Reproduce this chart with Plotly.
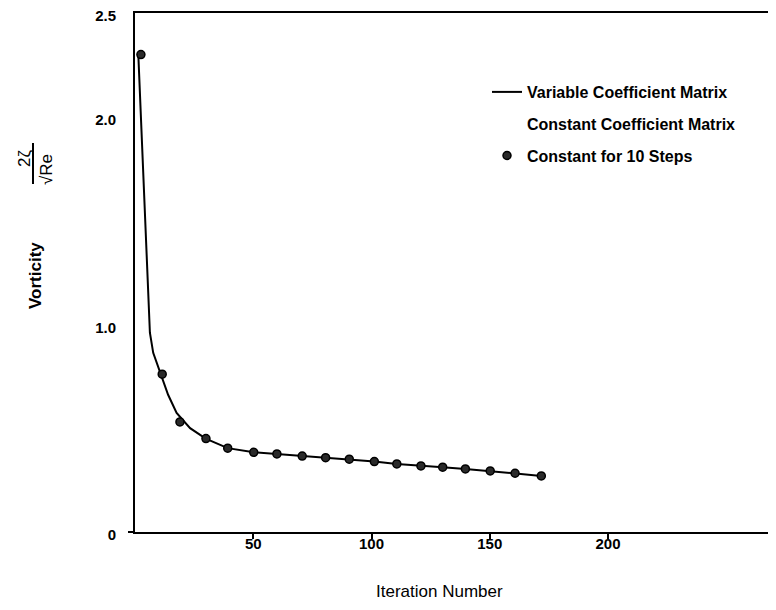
import plotly.graph_objects as go

# ---- data ----
curve_x = [1.4, 5.9, 6.3, 7.7, 10.6, 14.0, 17.6, 23.3, 29.9, 39.2, 50.2, 60.0, 70.7, 80.6,
           90.6, 101.2, 110.7, 120.9, 130.1, 139.7, 150.2, 160.7, 171.8]
curve_y = [2.30, 1.02, 0.96, 0.863, 0.767, 0.661, 0.574, 0.50, 0.45, 0.404, 0.384, 0.376,
           0.366, 0.358, 0.351, 0.339, 0.328, 0.318, 0.312, 0.304, 0.294, 0.283, 0.270]

step_x = [2.5, 11.5, 19.0, 30.0, 39.2, 50.2, 60.0, 70.7, 80.6, 90.6, 101.2, 110.7, 120.9,
          130.1, 139.7, 150.2, 160.7, 171.8]
step_y = [2.30, 0.76, 0.53, 0.45, 0.404, 0.384, 0.376, 0.366, 0.358, 0.351, 0.339, 0.328,
          0.318, 0.312, 0.304, 0.294, 0.283, 0.270]

y_tickvals = [0, 1.0, 2.0, 2.5]
y_ticktext = ["0", "1.0", "2.0", "2.5"]
x_tickvals = [50, 100, 150, 200]

FONT = "Liberation Sans, Arial, sans-serif"

# the page body has an 8px margin; figure is sized to fill the rest of the window
OFF = 8
FW, FH = 776 - OFF, 610 - OFF

# plot area in page pixels
L, R, T, B = 135, 776, 13, 532
W, H = R - L, B - T


def px(xp):
    return (xp - L) / W


def py(yp):
    return (B - yp) / H


fig = go.Figure()
fig.add_trace(go.Scatter(
    x=curve_x, y=curve_y, mode="lines", name="Variable Coefficient Matrix",
    line=dict(color="black", width=2), legendgroup="a"))
fig.add_trace(go.Scatter(
    x=[None], y=[None], mode="lines", name="Constant Coefficient Matrix",
    line=dict(color="rgba(0,0,0,0)", width=2), legendgroup="b"))
fig.add_trace(go.Scatter(
    x=step_x, y=step_y, mode="markers", name="Constant for 10 Steps",
    marker=dict(symbol="circle", size=8, color="#2a2a2a",
                line=dict(color="black", width=1.5)),
    legendgroup="c"))

fig.update_layout(
    width=FW, height=FH,
    margin=dict(l=L - OFF, r=776 - R, t=T - OFF, b=610 - B, autoexpand=False),
    paper_bgcolor="white", plot_bgcolor="white",
    font=dict(family=FONT, color="black"),
    showlegend=True,
    legend=dict(x=px(487), y=py(75), xanchor="left", yanchor="top",
                traceorder="grouped", tracegroupgap=8,
                font=dict(size=16, family=FONT, weight="bold"),
                bgcolor="rgba(0,0,0,0)"),
    xaxis=dict(range=[0, (R - L) / 2.365], showgrid=False, zeroline=False,
               automargin=False,
               showline=True, linecolor="black", linewidth=2, mirror=True,
               tickvals=x_tickvals, ticks="outside", ticklen=5, tickwidth=2,
               tickcolor="black", ticklabelstandoff=-8,
               tickfont=dict(size=15, family=FONT, weight="bold")),
    yaxis=dict(range=[0, 2.5], showgrid=False, zeroline=False,
               automargin=False,
               showline=True, linecolor="black", linewidth=2,
               tickvals=y_tickvals, ticktext=y_ticktext, ticks="",
               ticklabelstandoff=14, ticklabeloverflow="allow",
               ticklabelshift=3,
               tickfont=dict(size=15, family=FONT, weight="bold")),
)

# x-axis stub left of origin
fig.add_shape(type="line", xref="paper", yref="paper",
              x0=px(128), x1=0, y0=0, y1=0,
              line=dict(color="black", width=2))

# axis titles
fig.add_annotation(text="Iteration Number", xref="paper", yref="paper",
                   x=px(439), y=py(591), xanchor="center", yanchor="middle",
                   showarrow=False, font=dict(size=17, family=FONT))
fig.add_annotation(text="Vorticity", xref="paper", yref="paper",
                   x=px(35), y=py(276), xanchor="center", yanchor="middle",
                   showarrow=False, textangle=-90,
                   font=dict(size=17, family=FONT, weight="bold"))
fig.add_annotation(text="2ζ", xref="paper", yref="paper",
                   x=px(24), y=py(158), xanchor="center", yanchor="middle",
                   showarrow=False, textangle=-90,
                   font=dict(size=17, family=FONT))
fig.add_annotation(text="√Re", xref="paper", yref="paper",
                   x=px(46), y=py(170), xanchor="center", yanchor="middle",
                   showarrow=False, textangle=-90,
                   font=dict(size=17, family=FONT))
fig.add_shape(type="line", xref="paper", yref="paper",
              x0=px(33), x1=px(33), y0=py(143), y1=py(184),
              line=dict(color="black", width=2))

fig.write_html("out.html")
